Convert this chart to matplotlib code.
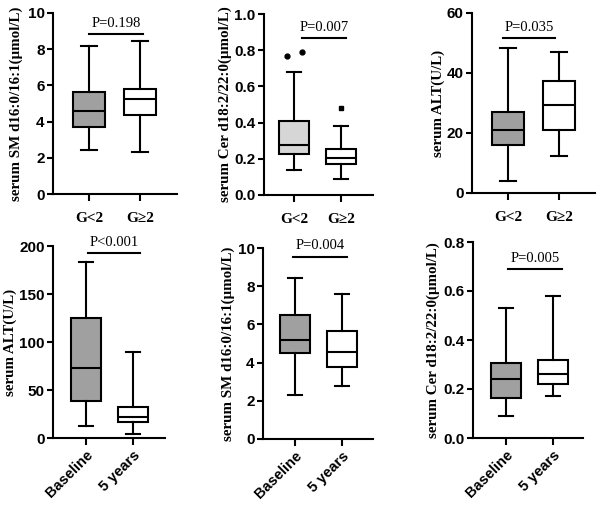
import matplotlib
matplotlib.use("Agg")
import matplotlib.pyplot as plt

SERIF = "Liberation Serif"
SANS = "Liberation Sans"

groups_top = ["G<2", "G\u22652"]
groups_bottom = ["Baseline", "5 years"]

# box stats: [whisker low, Q1, median, Q3, whisker high]
sm_grade = [[2.45, 3.70, 4.60, 5.65, 8.20], [2.30, 4.35, 5.25, 5.80, 8.45]]
cer_grade = [[0.14, 0.225, 0.275, 0.41, 0.68], [0.09, 0.17, 0.205, 0.255, 0.38]]
cer_grade_outliers = [[0.77, 0.79], [0.48]]
alt_grade = [[4.0, 16.0, 21.0, 27.0, 48.5], [12.5, 21.0, 29.5, 37.5, 47.0]]

alt_time = [[13.0, 39.0, 73.0, 125.0, 183.0], [4.0, 17.0, 22.0, 32.0, 90.0]]
sm_time = [[2.3, 4.5, 5.2, 6.5, 8.45], [2.75, 3.75, 4.55, 5.65, 7.6]]
cer_time = [[0.09, 0.165, 0.24, 0.305, 0.53], [0.17, 0.22, 0.26, 0.32, 0.58]]

p_values = ["P=0.198", "P=0.007", "P=0.035", "P<0.001", "P=0.004", "P=0.005"]
p_bar_y = [8.85, 0.865, 51.7, 193, 9.55, 0.69]

DARK = "#a0a0a0"
LIGHT = "#d6d6d6"
LW = 1.5

W, H = 600, 509
fig = plt.figure(figsize=(W / 100, H / 100), dpi=100)


def make_ax(left, right, top, bottom):
    return fig.add_axes([left / W, 1 - bottom / H, (right - left) / W, (bottom - top) / H])


def draw_panel(px, ticks_px, stats, fills, cats, ylabel, ylim, yticks, yfmt,
               ptxt, bar_y, bar_x, label_px, rotate, outliers=None, out_dx=None):
    left, right, top, bottom = px
    ax = make_ax(left, right, top, bottom)
    dx = ticks_px[1] - ticks_px[0]
    ax.set_xlim(-(ticks_px[0] - left) / dx, 1 + (right - ticks_px[1]) / dx)
    ax.set_ylim(*ylim)

    bxp_stats = []
    for s, c in zip(stats, cats):
        bxp_stats.append(dict(whislo=s[0], q1=s[1], med=s[2], q3=s[3], whishi=s[4],
                              fliers=[], label=c))
    bp = ax.bxp(bxp_stats, positions=[0, 1], widths=0.63, patch_artist=True,
                showfliers=False,
                boxprops=dict(linewidth=LW, edgecolor="black"),
                medianprops=dict(linewidth=LW, color="black"),
                whiskerprops=dict(linewidth=LW, color="black"),
                capprops=dict(linewidth=LW, color="black"))
    for patch, f in zip(bp["boxes"], fills):
        patch.set_facecolor(f)

    if outliers is not None:
        markers = ["o", "s"]
        for i, vals in enumerate(outliers):
            for v, off in zip(vals, out_dx[i]):
                ax.plot(i + off, v, marker=markers[i], color="black",
                        markersize=3.5, linestyle="none")

    for sp in ["top", "right"]:
        ax.spines[sp].set_visible(False)
    for sp in ["left", "bottom"]:
        ax.spines[sp].set_linewidth(LW)
    ax.set_yticks(yticks)
    ax.set_yticklabels([yfmt.format(t) for t in yticks], fontfamily=SANS,
                       fontweight="bold", fontsize=11)
    ax.tick_params(axis="both", width=LW, length=4, direction="out", pad=2)
    ax.tick_params(axis="x", length=5)
    ax.set_xticks([0, 1])
    if rotate:
        ax.set_xticklabels(cats, fontfamily=SANS, fontweight="bold", fontsize=10.5,
                           rotation=45, ha="right", rotation_mode="anchor")
    else:
        ax.set_xticklabels(cats, fontfamily=SERIF, fontweight="bold", fontsize=11)
        ax.tick_params(axis="x", pad=8)

    ax.set_ylabel(ylabel, fontfamily=SERIF, fontweight="bold", fontsize=10.8)
    ax.yaxis.set_label_coords((label_px - left) / (right - left), 0.5)
    ax.yaxis.label.set_verticalalignment("center")

    ax.plot(bar_x, [bar_y, bar_y], color="black", linewidth=LW, clip_on=False)
    ax.annotate(ptxt, xy=(sum(bar_x) / 2, bar_y), xytext=(0, 3),
                textcoords="offset points", ha="center", va="bottom",
                fontfamily=SERIF, fontsize=10.5, annotation_clip=False)
    return ax


draw_panel((53, 177, 13, 194), (89, 140), sm_grade, [DARK, "white"], groups_top,
           "serum SM d16:0/16:1(\u03bcmol/L)", (0, 10), [0, 2, 4, 6, 8, 10], "{:g}",
           p_values[0], p_bar_y[0], [0.0, 1.06], 16, False)
draw_panel((264, 373, 14, 195), (294, 341), cer_grade, [LIGHT, "white"], groups_top,
           "serum Cer d18:2/22:0(\u03bcmol/L)", (0, 1.0), [0, 0.2, 0.4, 0.6, 0.8, 1.0], "{:.1f}",
           p_values[1], p_bar_y[1], [0.17, 1.1], 225, False,
           outliers=cer_grade_outliers, out_dx=[[-0.15, 0.17], [0.0]])
draw_panel((472, 595, 13, 193), (508, 559), alt_grade, [DARK, "white"], groups_top,
           "serum ALT(U/L)", (0, 60), [0, 20, 40, 60], "{:g}",
           p_values[2], p_bar_y[2], [-0.1, 0.92], 438, False)

draw_panel((53, 165, 246, 438), (86, 133), alt_time, [DARK, "white"], groups_bottom,
           "serum ALT(U/L)", (0, 200), [0, 50, 100, 150, 200], "{:g}",
           p_values[3], p_bar_y[3], [0.04, 1.15], 10, True)
draw_panel((263, 373, 248, 439), (295, 342), sm_time, [DARK, "white"], groups_bottom,
           "serum SM d16:0/16:1(\u03bcmol/L)", (0, 10), [0, 2, 4, 6, 8, 10], "{:g}",
           p_values[4], p_bar_y[4], [-0.04, 1.1], 228, True)
draw_panel((473, 583, 242, 438), (506, 553), cer_time, [DARK, "white"], groups_bottom,
           "serum Cer d18:2/22:0(\u03bcmol/L)", (0, 0.8), [0, 0.2, 0.4, 0.6, 0.8], "{:.1f}",
           p_values[5], p_bar_y[5], [0.04, 1.19], 433, True)

fig.savefig("out.png", dpi=100)
